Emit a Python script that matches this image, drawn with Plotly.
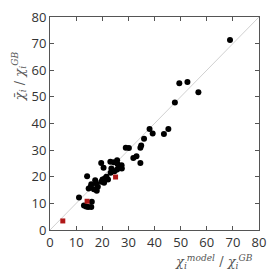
import plotly.graph_objects as go

x_black = [68.9, 49.5, 52.6, 56.8, 47.8, 38.1, 39.3, 45.3, 43.6, 36.0, 34.9, 34.6, 33.1, 31.9, 30.2,
           29.0, 34.6, 19.6, 20.5, 23.1, 24.4, 25.7, 25.9, 27.4, 27.5, 23.5, 24.7, 25.7, 23.2,
           20.1, 21.0, 21.6, 19.7, 20.7, 22.2, 17.7, 17.3, 18.3, 16.8, 17.9, 15.6, 14.8, 15.8,
           14.2, 11.1, 13.0, 13.8, 14.6, 15.8, 16.0]
y_black = [71.4, 55.1, 55.6, 51.7, 47.9, 37.9, 36.2, 37.9, 36.1, 34.3, 31.7, 30.9, 27.7, 27.0, 30.8,
           30.9, 25.2, 25.2, 23.4, 25.6, 25.4, 26.2, 24.7, 24.3, 23.1, 23.1, 22.1, 22.7, 21.5,
           19.0, 19.3, 20.0, 18.1, 17.7, 19.0, 17.5, 18.7, 16.2, 15.3, 14.7, 16.2, 15.6, 17.2,
           20.2, 12.2, 9.2, 8.8, 8.6, 8.6, 10.6]
x_red = [4.9, 14.2, 25.1]
y_red = [3.4, 10.8, 19.9]
diag = [0, 80]
ticks = [0, 10, 20, 30, 40, 50, 60, 70, 80]

fig = go.Figure()
fig.add_trace(go.Scatter(x=diag, y=diag, mode="lines",
                         line=dict(color="#d0d0d0", width=1), hoverinfo="skip"))
fig.add_trace(go.Scatter(x=x_black, y=y_black, mode="markers",
                         marker=dict(color="black", size=6)))
fig.add_trace(go.Scatter(x=x_red, y=y_red, mode="markers",
                         marker=dict(color="#b01818", size=5, symbol="square")))

axis_common = dict(range=[0, 80], tickvals=ticks, ticks="inside", ticklen=4,
                   tickcolor="#555", showline=True, linecolor="#555", linewidth=1,
                   mirror="ticks", showgrid=False, zeroline=False,
                   tickfont=dict(family="Open Sans", size=13, color="#333"))
fig.update_xaxes(**axis_common)
fig.update_yaxes(**axis_common)

fig.add_annotation(text="<i>χ̄<sub>i</sub></i> / <i>χ<sub>i</sub><sup>GB</sup></i>",
                   xref="paper", yref="paper", x=-0.2, y=0.85, textangle=-90,
                   showarrow=False, font=dict(family="DejaVu Serif", size=13, color="#555"))
fig.add_annotation(text="<i>χ<sub>i</sub><sup>model</sup></i> / <i>χ<sub>i</sub><sup>GB</sup></i>",
                   xref="paper", yref="paper", x=0.98, y=-0.2, xanchor="right", yanchor="bottom",
                   showarrow=False, font=dict(family="DejaVu Serif", size=13, color="#555"))

fig.update_layout(width=274, height=280, margin=dict(l=50, r=8, t=16, b=50),
                  plot_bgcolor="white", paper_bgcolor="white", showlegend=False)
fig.write_html("out.html")
